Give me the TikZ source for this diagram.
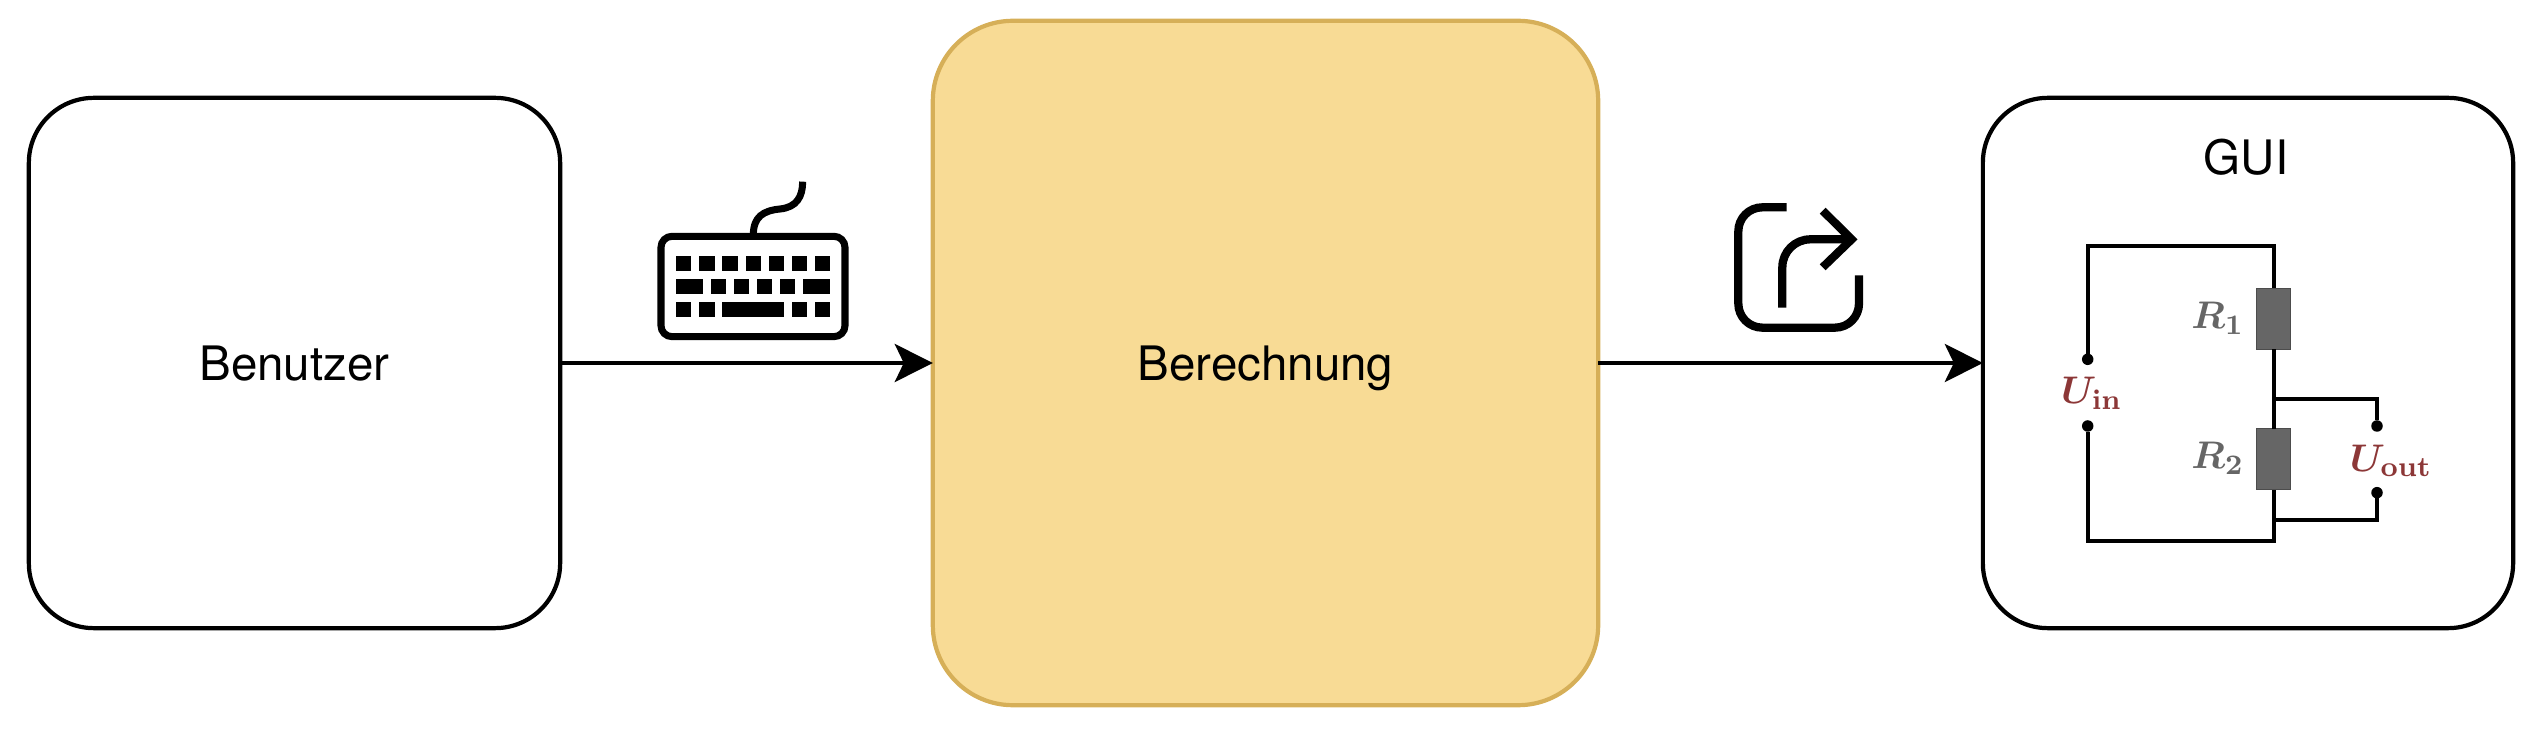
\documentclass[tikz,border=0pt]{standalone}
\usepackage{bm}
\usepackage{amsmath}
\usepackage[no-math]{fontspec}
\setmainfont{TeX Gyre Heros}
\usetikzlibrary{arrows.meta,positioning}
\definecolor{calcfill}{HTML}{F8DB95}
\definecolor{calcdraw}{HTML}{D6AF58}
\definecolor{voltred}{HTML}{8C3737}
\definecolor{resgray}{HTML}{666666}
\tikzset{
  block/.style={draw=black, line width=1.2pt, rounded corners=0.65cm, inner sep=0pt, outer sep=0pt, font=\fontsize{13.5pt}{16pt}\selectfont, text depth=0pt},
  flow/.style={-{Stealth[length=0.38cm, width=0.38cm, inset=0.09cm]}, line width=1.2pt},
  keys/.style={line width=2pt},
  share/.style={line width=2.35pt},
  wire/.style={line width=1.05pt},
  resistor/.style={draw=black!70, fill=resgray, line width=0.3pt, minimum width=0.337cm, minimum height=0.607cm, inner sep=0pt, outer sep=0pt},
  terminal/.style={circle, fill=black, minimum size=0.115cm, inner sep=0pt, outer sep=0pt},
  volt/.style={text=voltred, font=\fontsize{11.1pt}{13pt}\selectfont},
  reslabel/.style={text=resgray, font=\fontsize{11.1pt}{13pt}\selectfont}
}

\begin{document}
\begin{tikzpicture}[x=0.01cm, y=-0.01cm]
\useasboundingbox (0,0) rectangle (2541,743);

% main blocks
\node[block, minimum width=5.31cm, minimum height=5.30cm] (benutzer) at (294.5,363) {Benutzer};
\node[block, draw=calcdraw, fill=calcfill, rounded corners=0.8cm, minimum width=6.65cm, minimum height=6.84cm] (berechnung) at (1265.5,363) {Berechnung};
\node[block, minimum width=5.30cm, minimum height=5.30cm] (gui) at (2248,363) {};
\node[font=\fontsize{13.5pt}{16pt}\selectfont] (guititle) at (2246,157) {GUI};

% flow
\draw[flow] (benutzer) -- (berechnung);
\draw[flow] (berechnung) -- (gui);

% keyboard
\begin{scope}[shift={(620,160)}, scale=1/3]
\draw[keys, rounded corners=0.11cm] (123,229) rectangle (675,530);
\draw[keys] (400,225) .. controls (400,170) and (430,152) .. (480,147) .. controls (530,142) and (548,110) .. (548,65);
\foreach \xa/\xb in {168/214,238/284,307/353,377/423,446/492,515/561,584/630}
  \fill (\xa,288) rectangle (\xb,333);
\foreach \xa/\xb in {168/249,272/318,341/388,410/457,480/526,549/630}
  \fill (\xa,357) rectangle (\xb,403);
\foreach \xa/\xb in {168/214,238/284,307/492,515/561,584/630}
  \fill (\xa,427) rectangle (\xb,472);
\end{scope}

% share icon
\begin{scope}[shift={(1690,180)}, scale=1/3]
\draw[share, rounded corners=0.24cm] (290,82) -- (145,82) -- (145,443) -- (507,443) -- (507,286);
\draw[share, rounded corners=0.28cm] (277,383) -- (277,178) -- (485,178);
\draw[share, miter limit=4] (398,92) -- (485,178) -- (398,262);
\end{scope}

% circuit
\node[resistor] (r1) at (2273.7,318.8) {};
\node[resistor] (r2) at (2273.7,459.2) {};
\node[terminal] (inp) at (2087.7,359.3) {};
\node[terminal] (inm) at (2087.7,426) {};
\node[terminal] (outp) at (2377,426) {};
\node[terminal] (outm) at (2377,492.7) {};
\coordinate (topleft) at (2087.7,245.7);
\coordinate (topright) at (2273.7,245.7);
\coordinate (botleft) at (2087.7,541);
\coordinate (botright) at (2273.7,541);
\coordinate (midtap) at (2273.7,398.7);
\coordinate (lowtap) at (2273.7,520);
\draw[wire] (inp) -- (topleft) -- (topright) -- (r1);
\draw[wire] (r1) -- (r2);
\draw[wire] (inm) -- (botleft) -- (botright) -- (r2);
\draw[wire] (midtap) -| (outp);
\draw[wire] (lowtap) -| (outm);

% labels
\node[volt] (uin) at (2091.7,393.3) {$\bm{U}_{\mathbf{in}}$};
\node[volt] (uout) at (2391,460.7) {$\bm{U}_{\mathbf{out}}$};
\node[reslabel] (r1label) at (2217.7,318.3) {$\bm{R}_{\mathbf{1}}$};
\node[reslabel] (r2label) at (2217.7,458.3) {$\bm{R}_{\mathbf{2}}$};

\end{tikzpicture}
\end{document}
